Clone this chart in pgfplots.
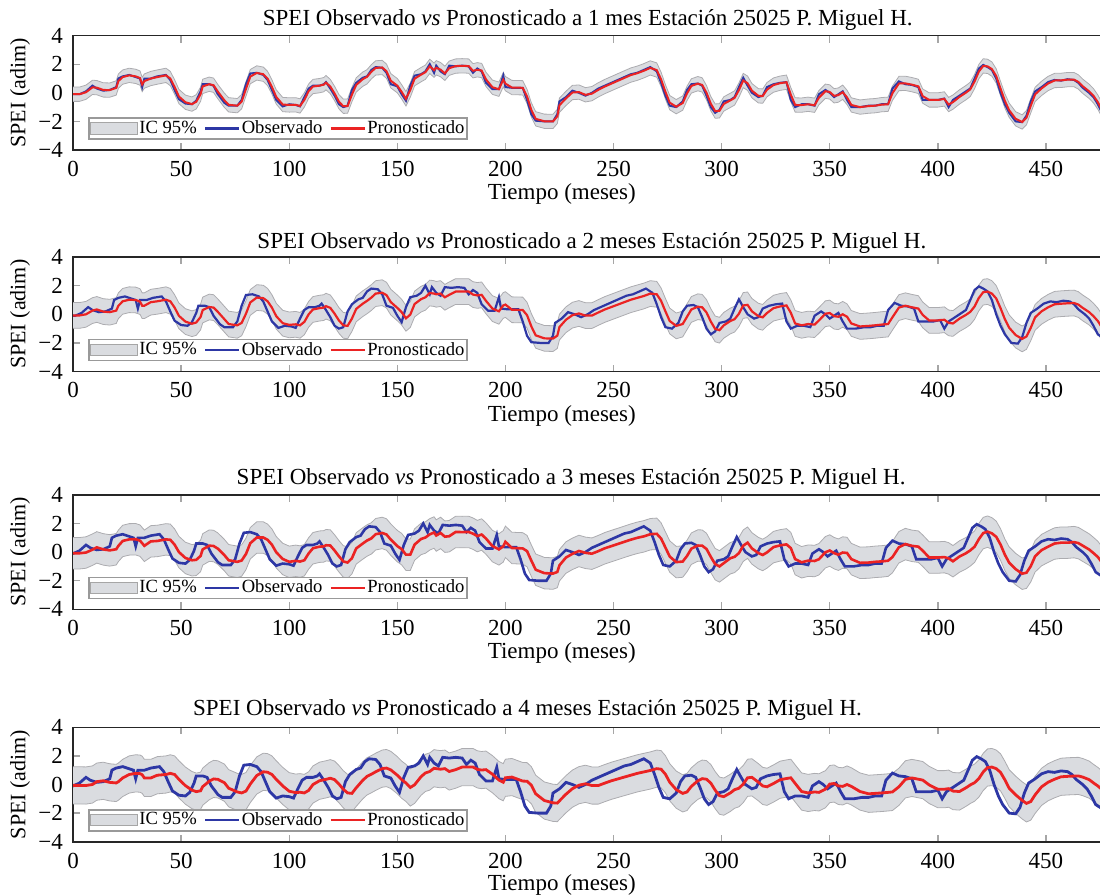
\documentclass[border=0pt]{standalone}
\usepackage{fontspec}
\setmainfont{Liberation Serif}
\usepackage{pgfplots}
\pgfplotsset{compat=1.18}
\usepackage{pgfplotstable}
\usepgfplotslibrary{fillbetween}
\definecolor{obsblue}{RGB}{45,55,165}
\definecolor{predred}{RGB}{235,35,35}
\definecolor{bandfill}{RGB}{218,220,224}
\definecolor{bandedge}{RGB}{172,172,176}

\pgfplotstableread{
t obs p1 p2 p3 p4
0 -0.10 -0.10 -0.08 -0.08 -0.06
3 -0.10 -0.10 -0.08 -0.08 -0.06
6 0.10 0.04 0.00 -0.03 -0.07
9 0.50 0.38 0.26 0.17 0.00
11 0.30 0.36 0.34 0.33 0.20
14 0.15 0.20 0.19 0.19 0.26
17 0.20 0.19 0.15 0.12 0.15
20 0.40 0.34 0.26 0.20 0.11
21 1.00 0.82 0.60 0.44 0.20
23 1.15 1.10 0.91 0.78 0.46
26 1.25 1.22 1.02 0.89 0.70
29 1.10 1.15 1.00 0.90 0.78
31 1.00 1.03 0.89 0.80 0.76
32 0.40 0.58 0.60 0.62 0.68
33 1.00 0.82 0.60 0.44 0.46
36 1.00 1.00 0.85 0.75 0.46
39 1.15 1.10 0.91 0.78 0.65
43 1.25 1.22 1.02 0.89 0.70
45 0.90 1.00 0.91 0.86 0.78
47 0.20 0.41 0.47 0.52 0.70
49 -0.45 -0.26 -0.11 0.00 0.36
52 -0.75 -0.66 -0.51 -0.41 -0.08
55 -0.80 -0.79 -0.66 -0.57 -0.39
57 -0.55 -0.63 -0.57 -0.54 -0.50
59 0.10 -0.10 -0.19 -0.27 -0.44
60 0.60 0.45 0.30 0.19 -0.15
63 0.60 0.60 0.51 0.45 0.23
65 0.50 0.53 0.47 0.43 0.39
67 -0.10 0.08 0.17 0.24 0.36
70 -0.70 -0.52 -0.34 -0.21 0.13
72 -0.90 -0.84 -0.68 -0.57 -0.26
76 -0.90 -0.90 -0.77 -0.68 -0.52
78 -0.50 -0.62 -0.60 -0.59 -0.59
80 0.60 0.27 0.04 -0.13 -0.46
82 1.35 1.13 0.83 0.62 0.03
85 1.40 1.39 1.17 1.02 0.63
88 1.25 1.30 1.13 1.02 0.89
90 0.90 1.00 0.91 0.86 0.86
92 0.20 0.41 0.47 0.52 0.70
94 -0.50 -0.29 -0.13 -0.01 0.36
97 -0.95 -0.82 -0.62 -0.48 -0.10
100 -0.80 -0.85 -0.74 -0.68 -0.47
103 -0.85 -0.84 -0.70 -0.61 -0.57
105 -0.95 -0.92 -0.77 -0.66 -0.54
107 -0.30 -0.50 -0.53 -0.57 -0.59
109 0.30 0.12 0.00 -0.09 -0.41
111 0.50 0.44 0.34 0.27 0.00
114 0.50 0.50 0.43 0.38 0.26
116 0.60 0.57 0.47 0.40 0.33
117 0.75 0.71 0.57 0.48 0.36
119 0.30 0.44 0.45 0.46 0.44
121 -0.20 -0.05 0.04 0.11 0.34
123 -0.80 -0.62 -0.43 -0.29 0.03
125 -1.00 -0.94 -0.77 -0.65 -0.33
127 -0.90 -0.93 -0.81 -0.73 -0.59
129 0.20 -0.13 -0.30 -0.43 -0.62
131 0.70 0.55 0.38 0.26 -0.23
134 1.05 0.95 0.74 0.60 0.29
136 1.15 1.12 0.94 0.81 0.57
138 1.60 1.47 1.17 0.96 0.72
140 1.80 1.74 1.45 1.25 0.89
143 1.75 1.77 1.51 1.34 1.11
145 1.40 1.51 1.34 1.23 1.15
147 0.60 0.84 0.85 0.87 1.02
150 0.45 0.50 0.45 0.42 0.65
152 -0.10 0.07 0.15 0.21 0.34
154 -0.55 -0.42 -0.28 -0.18 0.11
156 0.50 0.19 -0.02 -0.18 -0.21
158 1.20 0.99 0.72 0.53 -0.02
161 1.30 1.27 1.06 0.92 0.55
163 1.50 1.44 1.19 1.02 0.81
165 2.00 1.85 1.49 1.24 0.91
167 1.40 1.58 1.45 1.37 1.14
168 1.90 1.75 1.40 1.16 1.11
170 1.50 1.62 1.45 1.34 1.07
172 1.30 1.36 1.19 1.08 1.11
174 1.90 1.72 1.36 1.11 0.91
177 1.85 1.87 1.59 1.41 1.04
180 1.90 1.89 1.59 1.40 1.22
183 1.85 1.87 1.59 1.41 1.22
185 1.40 1.54 1.38 1.29 1.22
187 1.70 1.61 1.32 1.12 1.06
189 1.50 1.56 1.36 1.23 1.01
191 0.70 0.94 0.94 0.95 1.04
194 0.25 0.39 0.40 0.42 0.72
197 0.25 0.25 0.21 0.19 0.31
199 1.20 0.92 0.62 0.40 0.16
200 0.40 0.64 0.68 0.72 0.47
203 0.35 0.37 0.32 0.29 0.52
208 0.35 0.35 0.30 0.26 0.24
210 -0.50 -0.25 -0.06 0.07 0.23
212 -1.50 -1.20 -0.85 -0.60 -0.05
214 -1.95 -1.82 -1.47 -1.23 -0.65
218 -2.00 -1.99 -1.68 -1.47 -1.12
222 -2.00 -2.00 -1.70 -1.50 -1.28
224 -1.50 -1.65 -1.49 -1.39 -1.30
225 -0.60 -0.87 -0.89 -0.92 -1.14
228 -0.30 -0.39 -0.38 -0.38 -0.68
231 0.15 0.02 -0.06 -0.12 -0.29
234 0.00 0.05 0.06 0.08 -0.05
237 -0.20 -0.14 -0.09 -0.05 0.05
240 0.00 -0.06 -0.09 -0.11 -0.07
243 0.30 0.21 0.13 0.07 -0.07
246 0.50 0.44 0.34 0.27 0.10
249 0.70 0.64 0.51 0.42 0.26
252 0.90 0.84 0.68 0.57 0.39
255 1.10 1.04 0.85 0.72 0.52
258 1.30 1.24 1.02 0.87 0.65
261 1.40 1.37 1.15 1.00 0.78
264 1.60 1.54 1.28 1.10 0.88
267 1.80 1.74 1.45 1.25 0.98
270 1.50 1.59 1.40 1.28 1.11
272 0.70 0.94 0.94 0.95 1.07
274 -0.20 0.07 0.21 0.32 0.72
276 -0.90 -0.69 -0.47 -0.31 0.16
279 -1.00 -0.97 -0.81 -0.70 -0.36
282 -0.60 -0.72 -0.68 -0.66 -0.62
284 0.20 -0.04 -0.17 -0.27 -0.52
286 0.60 0.48 0.34 0.24 -0.13
289 0.65 0.64 0.53 0.46 0.26
291 0.50 0.55 0.49 0.45 0.41
293 -0.20 0.01 0.13 0.22 0.37
295 -1.00 -0.76 -0.51 -0.33 0.10
297 -1.40 -1.28 -1.02 -0.84 -0.39
299 -1.20 -1.26 -1.11 -1.00 -0.78
301 -0.60 -0.78 -0.77 -0.77 -0.85
304 -0.50 -0.53 -0.47 -0.43 -0.59
306 -0.30 -0.36 -0.34 -0.33 -0.36
308 0.40 0.19 0.04 -0.07 -0.26
310 1.05 0.86 0.62 0.45 0.03
312 0.50 0.67 0.66 0.66 0.47
314 0.00 0.15 0.21 0.26 0.50
317 -0.30 -0.21 -0.13 -0.07 0.16
319 -0.20 -0.23 -0.21 -0.20 -0.10
321 0.40 0.22 0.09 -0.02 -0.16
324 0.60 0.54 0.43 0.35 0.07
327 0.70 0.67 0.55 0.47 0.33
330 0.75 0.74 0.62 0.54 0.42
332 -0.50 -0.13 0.11 0.28 0.47
334 -1.00 -0.85 -0.64 -0.49 0.08
337 -0.80 -0.86 -0.77 -0.71 -0.49
340 -0.80 -0.80 -0.68 -0.60 -0.59
343 -0.90 -0.87 -0.72 -0.62 -0.52
345 -0.10 -0.34 -0.43 -0.50 -0.55
348 0.20 0.11 0.04 -0.01 -0.33
350 0.00 0.06 0.09 0.11 0.03
352 -0.30 -0.21 -0.13 -0.07 0.07
354 -0.10 -0.16 -0.17 -0.18 -0.10
356 0.10 0.04 0.00 -0.03 -0.13
358 -0.50 -0.32 -0.17 -0.06 0.00
360 -1.00 -0.85 -0.64 -0.49 -0.13
364 -1.00 -1.00 -0.85 -0.75 -0.49
368 -0.90 -0.93 -0.81 -0.73 -0.65
371 -0.90 -0.90 -0.77 -0.68 -0.62
374 -0.80 -0.83 -0.72 -0.65 -0.59
377 -0.80 -0.80 -0.68 -0.60 -0.55
379 0.30 -0.03 -0.21 -0.35 -0.52
382 0.80 0.65 0.47 0.34 -0.16
385 0.60 0.66 0.60 0.56 0.36
388 0.55 0.57 0.49 0.44 0.46
391 0.40 0.45 0.40 0.38 0.37
393 -0.50 -0.23 -0.04 0.10 0.31
396 -0.50 -0.50 -0.43 -0.38 -0.03
400 -0.50 -0.50 -0.43 -0.38 -0.33
403 -0.40 -0.43 -0.38 -0.35 -0.33
405 -1.00 -0.82 -0.60 -0.44 -0.29
407 -0.50 -0.65 -0.64 -0.64 -0.46
410 -0.20 -0.29 -0.30 -0.31 -0.49
413 0.10 0.01 -0.04 -0.08 -0.23
415 0.30 0.24 0.17 0.12 -0.03
417 1.00 0.79 0.55 0.38 0.13
419 1.70 1.49 1.15 0.91 0.42
421 1.95 1.88 1.55 1.33 0.88
423 1.80 1.85 1.59 1.43 1.19
425 1.60 1.66 1.45 1.31 1.22
427 1.00 1.18 1.11 1.07 1.11
429 0.00 0.30 0.43 0.53 0.85
431 -0.80 -0.56 -0.34 -0.18 0.33
433 -1.40 -1.22 -0.94 -0.74 -0.26
436 -2.00 -1.82 -1.45 -1.19 -0.72
439 -2.05 -2.04 -1.72 -1.51 -1.11
441 -1.60 -1.74 -1.55 -1.44 -1.32
443 -0.60 -0.90 -0.94 -0.98 -1.19
445 0.10 -0.11 -0.21 -0.29 -0.72
448 0.40 0.31 0.21 0.14 -0.16
451 0.75 0.65 0.49 0.38 0.16
454 0.90 0.86 0.70 0.60 0.37
457 0.85 0.87 0.74 0.66 0.54
460 0.95 0.92 0.77 0.66 0.57
463 0.90 0.92 0.79 0.70 0.59
465 0.70 0.76 0.68 0.63 0.60
467 0.35 0.46 0.45 0.45 0.52
470 0.00 0.10 0.15 0.18 0.34
472 -0.30 -0.21 -0.13 -0.07 0.11
474 -0.80 -0.65 -0.47 -0.34 -0.10
476 -1.40 -1.22 -0.94 -0.74 -0.36
478 -1.60 -1.54 -1.28 -1.10 -0.72
480 -1.50 -1.53 -1.32 -1.18 -0.98
}\spei

\pgfplotsset{
  panel/.style={
    scale only axis, width=518.9pt, height=57.2pt,
    xmin=0, xmax=480, ymin=-4, ymax=4,
    xtick={0,50,...,450},
    xticklabels={0,50,100,150,200,250,300,350,400,450},
    ytick={-4,-2,0,2,4}, yticklabels={−4,−2,0,2,4},
    ytick pos=left, xtick pos=both, tick align=inside,
    major tick length=3.5pt,
    tick style={gray!70, line width=0.7pt},
    axis line style={black!85, line width=0.8pt},
    tick label style={font=\fontsize{11.5}{13}\selectfont},
    xticklabel style={yshift=-2pt},
    yticklabel style={xshift=-1.5pt},
    xlabel={Tiempo (meses)}, ylabel={SPEI (adim)},
    xlabel style={at={(rel axis cs:0.471,0)}, anchor=center, yshift=-22pt,
      font=\fontsize{11.5}{13}\selectfont},
    ylabel style={at={(rel axis cs:-0.0511,0.5)}, anchor=center,
      font=\fontsize{11}{13}\selectfont},
    every axis title shift=0pt,
    title style={anchor=center, yshift=8pt, font=\fontsize{11.5}{13}\selectfont},
    legend style={at={(rel axis cs:0.0145,0.088)}, anchor=south west,
      draw=gray!80, line width=0.8pt, fill=white, inner sep=0.6pt,
      font=\fontsize{9.3}{10}\selectfont, nodes={inner sep=0.7pt},
      /tikz/every even column/.append style={column sep=3pt}},
    legend columns=3, legend cell align=left,
  },
  bandimg/.style={legend image code/.code={\draw[fill=bandfill, draw=gray!70, line width=0.5pt] (0pt,-2.8pt) rectangle (23.5pt,2.8pt);}},
  blueimg/.style={legend image code/.code={\draw[obsblue, line width=1.1pt] (0pt,0pt) -- (17pt,0pt);}},
  redimg/.style={legend image code/.code={\draw[predred, line width=1.1pt] (0pt,0pt) -- (17pt,0pt);}},
}

\begin{document}
\begin{tikzpicture}

% ---------- Panel 1 ----------
\begin{axis}[panel, at={(36.5pt,-75pt)}, anchor=south west,
  title={SPEI Observado \textit{vs} Pronosticado a 1 mes Estación 25025 P. Miguel H.},
  title style={at={(rel axis cs:0.496,1)}}]
\addplot[name path=ua, draw=bandedge, line width=0.4pt, forget plot] table[x=t, y expr=\thisrow{p1}+0.5]{\spei};
\addplot[name path=la, draw=bandedge, line width=0.4pt, forget plot] table[x=t, y expr=\thisrow{p1}-0.5]{\spei};
\addplot[fill=bandfill, draw=none, bandimg] fill between[of=ua and la];
\addplot[obsblue, line width=1.0pt, blueimg] table[x=t, y=obs]{\spei};
\addplot[predred, line width=1.0pt, redimg] table[x=t, y=p1]{\spei};
\legend{IC 95\%, Observado, Pronosticado}
\end{axis}

% ---------- Panel 2 ----------
\begin{axis}[panel, at={(36.5pt,-185.75pt)}, anchor=south west,
  title={SPEI Observado \textit{vs} Pronosticado a 2 meses Estación 25025 P. Miguel H.},
  title style={at={(rel axis cs:0.500,1)}, yshift=-1pt}]
\addplot[name path=ub, draw=bandedge, line width=0.4pt, forget plot] table[x=t, y expr=\thisrow{p2}+0.9]{\spei};
\addplot[name path=lb, draw=bandedge, line width=0.4pt, forget plot] table[x=t, y expr=\thisrow{p2}-0.9]{\spei};
\addplot[fill=bandfill, draw=none, bandimg] fill between[of=ub and lb];
\addplot[obsblue, line width=1.1pt, blueimg] table[x expr=\thisrow{t}-2, y=obs]{\spei};
\addplot[predred, line width=1.1pt, redimg] table[x=t, y=p2]{\spei};
\legend{IC 95\%, Observado, Pronosticado}
\end{axis}

% ---------- Panel 3 ----------
\begin{axis}[panel, at={(36.5pt,-304.65pt)}, anchor=south west,
  title={SPEI Observado \textit{vs} Pronosticado a 3 meses Estación 25025 P. Miguel H.},
  title style={at={(rel axis cs:0.480,1)}}]
\addplot[name path=uc, draw=bandedge, line width=0.4pt, forget plot] table[x=t, y expr=\thisrow{p3}+1.1]{\spei};
\addplot[name path=lc, draw=bandedge, line width=0.4pt, forget plot] table[x=t, y expr=\thisrow{p3}-1.1]{\spei};
\addplot[fill=bandfill, draw=none, bandimg] fill between[of=uc and lc];
\addplot[obsblue, line width=1.3pt, blueimg] table[x expr=\thisrow{t}-3, y=obs]{\spei};
\addplot[predred, line width=1.3pt, redimg] table[x=t, y=p3]{\spei};
\legend{IC 95\%, Observado, Pronosticado}
\end{axis}

% ---------- Panel 4 ----------
\begin{axis}[panel, at={(36.5pt,-420.85pt)}, anchor=south west,
  title={SPEI Observado \textit{vs} Pronosticado a 4 meses Estación 25025 P. Miguel H.},
  title style={at={(rel axis cs:0.438,1)}, yshift=0.5pt},
  xlabel style={yshift=0.5pt}]
\addplot[name path=ud, draw=bandedge, line width=0.4pt, forget plot] table[x=t, y expr=\thisrow{p4}+1.3]{\spei};
\addplot[name path=ld, draw=bandedge, line width=0.4pt, forget plot] table[x=t, y expr=\thisrow{p4}-1.3]{\spei};
\addplot[fill=bandfill, draw=none, bandimg] fill between[of=ud and ld];
\addplot[obsblue, line width=1.4pt, blueimg] table[x expr=\thisrow{t}-3, y=obs]{\spei};
\addplot[predred, line width=1.4pt, redimg] table[x=t, y=p4]{\spei};
\legend{IC 95\%, Observado, Pronosticado}
\end{axis}

\pgfresetboundingbox
\path[use as bounding box] (0pt,0pt) rectangle (550pt,-448pt);
\end{tikzpicture}
\end{document}
